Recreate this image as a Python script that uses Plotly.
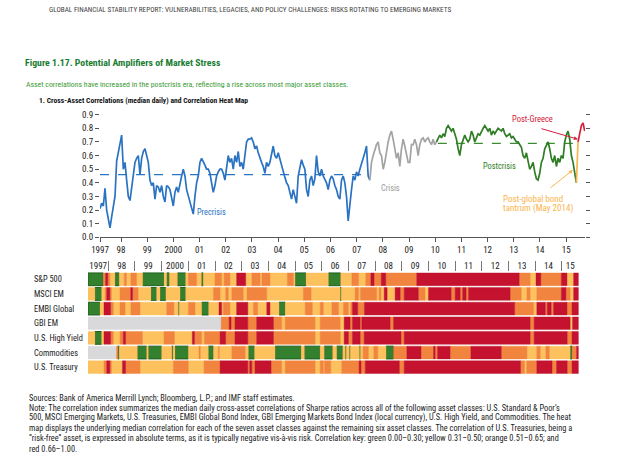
import plotly.graph_objects as go

W, H = 640, 459
NARROW = "Liberation Sans Narrow, Arial Narrow, Roboto Condensed, Roboto, sans-serif"

# ---------------- line chart data (median daily cross-asset correlation) -------------
grid_start = 1997.198
grid_step = 0.06361

precrisis = [0.21, 0.25, 0.23, 0.36, 0.2, 0.12, 0.07, 0.15, 0.22, 0.3,
             0.56, 0.62, 0.7, 0.75, 0.5, 0.55, 0.42, 0.3, 0.27, 0.38,
             0.45, 0.55, 0.58, 0.6, 0.46, 0.58, 0.63, 0.65, 0.6, 0.55,
             0.42, 0.38, 0.4, 0.28, 0.38, 0.37, 0.33, 0.38, 0.3, 0.26,
             0.38, 0.37, 0.35, 0.3, 0.23, 0.33, 0.37, 0.33, 0.4, 0.45,
             0.5, 0.45, 0.35, 0.3, 0.25, 0.22, 0.17, 0.3, 0.4, 0.45,
             0.55, 0.58, 0.56, 0.53, 0.5, 0.5, 0.47, 0.4, 0.33, 0.38,
             0.45, 0.48, 0.5, 0.5, 0.47, 0.42, 0.52, 0.6, 0.55, 0.58,
             0.5, 0.6, 0.55, 0.63, 0.52, 0.55, 0.5, 0.6, 0.7, 0.72,
             0.72, 0.73, 0.7, 0.65, 0.67, 0.62, 0.58, 0.55, 0.52, 0.47,
             0.55, 0.52, 0.55, 0.62, 0.67, 0.6, 0.58, 0.62, 0.57, 0.52,
             0.47, 0.44, 0.4, 0.38, 0.33, 0.28, 0.35, 0.3, 0.25, 0.45,
             0.52, 0.57, 0.53, 0.5, 0.35, 0.3,
             0.42, 0.45, 0.38, 0.43, 0.6, 0.48, 0.45, 0.5, 0.45, 0.42,
             0.4, 0.35, 0.42, 0.45, 0.43, 0.38, 0.35, 0.3, 0.28, 0.42,
             0.45, 0.4, 0.3, 0.12, 0.25, 0.35, 0.45, 0.42, 0.48, 0.45,
             0.5, 0.55, 0.58, 0.62, 0.67, 0.45, 0.42]
crisis = [0.42, 0.55, 0.6, 0.65, 0.68, 0.7, 0.62, 0.6, 0.5, 0.55,
          0.63, 0.7, 0.75, 0.78, 0.72, 0.65, 0.58, 0.62, 0.52, 0.65,
          0.72, 0.67, 0.62, 0.55, 0.55, 0.68, 0.68, 0.72, 0.68, 0.6,
          0.68, 0.72, 0.73, 0.7, 0.72, 0.73, 0.7, 0.68, 0.72, 0.68,
          0.7]
postcrisis = [0.7, 0.72, 0.75, 0.73, 0.76, 0.74, 0.8, 0.82, 0.8, 0.78,
              0.8, 0.76, 0.72, 0.65, 0.6, 0.68, 0.72, 0.75, 0.72, 0.7,
              0.72, 0.78, 0.75, 0.7, 0.73, 0.76, 0.75, 0.78, 0.8, 0.82,
              0.8, 0.78, 0.8, 0.75, 0.78, 0.76, 0.78, 0.8, 0.79, 0.78,
              0.8, 0.76, 0.74, 0.75, 0.76, 0.73, 0.74, 0.72, 0.7, 0.7,
              0.68, 0.66, 0.6, 0.58, 0.62, 0.55, 0.5, 0.52, 0.55, 0.48,
              0.43, 0.42, 0.47, 0.55, 0.58, 0.65, 0.68, 0.7, 0.65, 0.58,
              0.55, 0.6, 0.52, 0.58, 0.55, 0.6, 0.58, 0.7, 0.75, 0.78,
              0.72, 0.6, 0.55, 0.48, 0.4]
tantrum = [0.40, 0.70]
post_greece = [0.70, 0.76, 0.82, 0.84, 0.78]
series_start = {"precrisis": 0, "crisis": 162, "postcrisis": 202, "tantrum": 286, "greece": 287}

precrisis_mean = 0.46
precrisis_span = (1997.2, 2007.55)
postcrisis_mean = 0.69
postcrisis_span = (2010.1, 2015.45)

line_tick_vals = [1997.2] + list(range(1998, 2016))
year_labels = ["1997", "98", "99", "2000", "01", "02", "03", "04", "05", "06", "07",
               "08", "09", "10", "11", "12", "13", "14", "15"]
y_ticks = [0.0, 0.1, 0.2, 0.3, 0.4, 0.5, 0.6, 0.7, 0.8, 0.9]

# ---------------- heat map data: (start year, correlation bucket) ------------------
heat_start, heat_end = 1997.24, 2015.63
rows = ["S&P 500", "MSCI EM", "EMBI Global", "GBI EM", "U.S. High Yield", "Commodities", "U.S. Treasury"]

sp500 = [(1997.24, "G"), (1997.81, "O"), (1997.9, "R"), (1997.98, "O"), (1998.06, "Y"), (1998.25, "G"),
         (1998.41, "Y"), (1998.6, "O"), (1998.68, "Y"), (1998.85, "O"), (1999.06, "Y"), (1999.29, "G"),
         (2000.09, "Y"), (2000.19, "G"), (2000.29, "Y"), (2000.59, "G"), (2000.9, "Y"), (2001.0, "O"),
         (2001.31, "Y"), (2001.49, "G"), (2001.56, "Y"), (2002.0, "O"), (2002.25, "Y"), (2002.34, "O"),
         (2002.56, "Y"), (2002.81, "R"), (2003.15, "Y"), (2003.38, "O"), (2003.69, "Y"), (2003.76, "O"),
         (2004.06, "Y"), (2004.71, "O"), (2004.94, "Y"), (2005.0, "G"), (2005.41, "Y"), (2006.25, "G"),
         (2006.71, "Y"), (2007.13, "O"), (2007.38, "Y"), (2007.65, "O"), (2007.84, "R"), (2007.96, "O"),
         (2008.23, "R"), (2008.4, "O"), (2009.56, "R"), (2013.4, "O"), (2013.81, "Y"), (2014.03, "R"),
         (2014.21, "O"), (2014.98, "R"), (2015.19, "Y"), (2015.44, "R")]
msci_em = [(1997.24, "Y"), (1997.5, "G"), (1997.75, "Y"), (1997.88, "O"), (1997.94, "R"), (1998.06, "O"),
           (1998.12, "Y"), (1998.44, "O"), (1998.84, "R"), (1998.91, "O"), (1999.12, "Y"), (1999.6, "G"),
           (1999.81, "Y"), (1999.94, "G"), (2000.16, "Y"), (2000.69, "G"), (2000.9, "Y"), (2001.94, "O"),
           (2002.19, "Y"), (2002.4, "O"), (2002.5, "Y"), (2002.63, "O"), (2003.06, "Y"), (2003.2, "O"),
           (2003.94, "Y"), (2005.31, "O"), (2005.6, "Y"), (2006.69, "G"), (2006.73, "Y"), (2007.25, "O"),
           (2007.38, "Y"), (2007.45, "O"), (2008.06, "Y"), (2008.15, "O"), (2008.22, "Y"), (2008.34, "R"),
           (2008.45, "Y"), (2008.75, "R"), (2008.94, "O"), (2009.09, "R"), (2009.62, "O"), (2009.87, "Y"),
           (2010.0, "R"), (2010.85, "O"), (2011.0, "R"), (2011.19, "O"), (2011.28, "R"), (2011.41, "O"),
           (2011.5, "R"), (2013.06, "O"), (2013.48, "Y"), (2013.69, "O"), (2013.81, "Y"), (2014.06, "O"),
           (2014.98, "R"), (2015.15, "O"), (2015.31, "Y"), (2015.44, "R")]
embi_global = [(1997.24, "G"), (1997.69, "Y"), (1997.84, "R"), (1998.09, "O"), (1998.19, "Y"), (1998.44, "O"),
               (1998.63, "Y"), (1998.85, "O"), (1999.19, "Y"), (2000.19, "O"), (2000.46, "Y"), (2000.62, "G"),
               (2000.66, "Y"), (2001.0, "O"), (2001.25, "Y"), (2001.5, "G"), (2001.76, "Y"), (2002.15, "R"),
               (2002.25, "Y"), (2002.31, "O"), (2002.56, "Y"), (2002.81, "R"), (2003.23, "Y"), (2003.44, "O"),
               (2003.6, "Y"), (2003.94, "R"), (2004.06, "Y"), (2004.4, "G"), (2004.63, "Y"), (2005.38, "O"),
               (2005.65, "Y"), (2005.94, "O"), (2006.06, "Y"), (2006.38, "O"), (2006.63, "Y"), (2006.81, "O"),
               (2007.0, "Y"), (2007.08, "O"), (2007.15, "R"), (2007.35, "O"), (2007.6, "R"), (2013.23, "O"),
               (2013.94, "Y"), (2014.06, "R"), (2014.38, "O"), (2014.45, "R"), (2014.6, "O"), (2014.69, "R"),
               (2015.19, "O"), (2015.38, "R")]
gbi_em = [(1997.24, "N"), (2002.23, "O"), (2002.53, "R"), (2002.6, "O"), (2002.75, "R"), (2003.23, "O"),
          (2003.56, "R"), (2004.19, "O"), (2004.5, "Y"), (2004.63, "O"), (2005.75, "Y"), (2005.94, "O"),
          (2006.69, "Y"), (2006.84, "R"), (2007.06, "O"), (2007.15, "R"), (2007.44, "O"), (2007.5, "R"),
          (2008.56, "O"), (2008.69, "R"), (2013.81, "O"), (2013.96, "R"), (2015.31, "Y"), (2015.4, "R")]
us_high_yield = [(1997.24, "Y"), (1997.5, "G"), (1997.75, "Y"), (1997.84, "R"), (1998.09, "O"), (1998.19, "Y"),
                 (1998.44, "O"), (1998.56, "R"), (1998.65, "O"), (1999.28, "Y"), (2000.09, "O"), (2000.48, "Y"),
                 (2001.15, "R"), (2001.23, "O"), (2001.5, "Y"), (2001.6, "O"), (2002.19, "R"), (2002.4, "O"),
                 (2002.75, "R"), (2003.23, "O"), (2003.56, "R"), (2004.19, "O"), (2005.75, "Y"), (2005.94, "O"),
                 (2006.7, "Y"), (2006.84, "R"), (2007.0, "O"), (2007.15, "R"), (2007.44, "O"), (2007.59, "R"),
                 (2008.97, "O"), (2009.09, "R"), (2013.81, "O"), (2013.96, "R"), (2015.2, "O"), (2015.38, "R")]
commodities = [(1997.24, "N"), (1998.31, "O"), (1998.36, "G"), (1998.41, "Y"), (1999.09, "G"), (1999.44, "Y"),
               (1999.5, "G"), (2000.0, "Y"), (2000.38, "G"), (2000.43, "Y"), (2000.5, "G"), (2001.0, "Y"),
               (2001.4, "O"), (2001.45, "Y"), (2001.75, "G"), (2001.94, "Y"), (2002.13, "O"), (2002.16, "Y"),
               (2002.63, "O"), (2003.13, "Y"), (2003.25, "G"), (2003.48, "Y"), (2004.25, "G"), (2005.23, "Y"),
               (2005.35, "G"), (2005.94, "Y"), (2006.09, "G"), (2006.41, "Y"), (2006.56, "G"), (2006.79, "Y"),
               (2006.88, "G"), (2006.92, "Y"), (2007.03, "G"), (2007.07, "Y"), (2007.41, "G"), (2007.45, "Y"),
               (2007.55, "O"), (2007.75, "Y"), (2007.95, "O"), (2008.1, "Y"), (2008.41, "G"), (2008.69, "O"),
               (2009.19, "R"), (2009.72, "O"), (2010.19, "R"), (2010.25, "O"), (2010.34, "R"), (2010.81, "O"),
               (2011.59, "R"), (2012.73, "O"), (2013.69, "Y"), (2014.06, "O"), (2014.19, "Y"), (2014.4, "O"),
               (2014.53, "Y"), (2015.31, "G"), (2015.38, "O"), (2015.55, "R")]
us_treasury = [(1997.24, "Y"), (1997.84, "O"), (1997.94, "R"), (1998.06, "O"), (1998.12, "Y"), (1998.53, "R"),
               (1998.65, "O"), (1999.19, "Y"), (2000.44, "O"), (2001.0, "Y"), (2001.59, "O"), (2002.19, "R"),
               (2003.23, "O"), (2003.3, "R"), (2003.38, "O"), (2003.5, "R"), (2004.1, "O"), (2004.5, "Y"),
               (2004.63, "O"), (2005.75, "Y"), (2005.94, "O"), (2006.06, "Y"), (2006.1, "O"), (2006.34, "Y"),
               (2006.75, "O"), (2007.4, "R"), (2007.47, "O"), (2007.63, "R"), (2008.91, "O"), (2009.09, "R"),
               (2013.45, "O"), (2013.6, "Y"), (2013.68, "O"), (2014.06, "R"), (2014.63, "O"), (2014.8, "R"),
               (2015.2, "O"), (2015.38, "R")]
heat_rows = [sp500, msci_em, embi_global, gbi_em, us_high_yield, commodities, us_treasury]

bucket_colors = {"N": "#d9d9db", "G": "#33802f", "Y": "#fdc15d", "O": "#f1853f", "R": "#c4122f"}
bucket_lines = {"N": "#d9d9db", "G": "#1f5f1c", "Y": "#fdc15d", "O": "#ee7d36", "R": "#b50f29"}

# ---------------- colours ----------------
C_BLUE, C_GRAY, C_GREEN, C_ORANGE, C_RED = "#2a73c2", "#a3a3a3", "#2f7d24", "#fbb44c", "#d3203c"

fig = go.Figure()

def xs(key, vals):
    s = series_start[key]
    return [grid_start + (s + i) * grid_step for i in range(len(vals))]

fig.add_trace(go.Scatter(x=list(precrisis_span), y=[precrisis_mean] * 2, mode="lines",
                         line=dict(color=C_BLUE, width=1.3, dash="dash")))
fig.add_trace(go.Scatter(x=list(postcrisis_span), y=[postcrisis_mean] * 2, mode="lines",
                         line=dict(color="#3d8a35", width=1.3, dash="dash")))
for key, vals, col in [("precrisis", precrisis, C_BLUE), ("crisis", crisis, C_GRAY),
                       ("postcrisis", postcrisis, C_GREEN), ("tantrum", tantrum, C_ORANGE),
                       ("greece", post_greece, C_RED)]:
    fig.add_trace(go.Scatter(x=xs(key, vals), y=vals, mode="lines",
                             line=dict(color=col, width=1.7)))

# heat map as horizontal segment bars
for code in ["N", "G", "Y", "O", "R"]:
    ys, bases, lens = [], [], []
    for name, segs in zip(rows, heat_rows):
        for k, (st, c) in enumerate(segs):
            en = segs[k + 1][0] if k + 1 < len(segs) else heat_end
            if c == code:
                ys.append(name); bases.append(st); lens.append(en - st)
    fig.add_trace(go.Bar(orientation="h", y=ys, x=lens, base=bases, xaxis="x2", yaxis="y2",
                         marker=dict(color=bucket_colors[code],
                                     line=dict(color=bucket_lines[code], width=1 if code == "G" else 0.4))))

def px_x(p): return p / W
def px_y(p): return 1 - p / H

heat_label_pos = []
for i, lab in enumerate(year_labels):
    y0 = max(1997 + i, heat_start)
    y1 = min(1998 + i, heat_end)
    heat_label_pos.append((y0 + y1) / 2)

HEAT_L, HEAT_R = 88, 578.7

fig.update_layout(
    width=W, height=H, margin=dict(l=0, r=0, t=0, b=0, autoexpand=False),
    paper_bgcolor="white", plot_bgcolor="white", showlegend=False,
    barmode="overlay", bargap=0.13,
    font=dict(family=NARROW, color="#222"),
    xaxis=dict(domain=[px_x(100), px_x(585)], range=[grid_start, 2015.72], anchor="y",
               tickvals=line_tick_vals, ticktext=year_labels, ticks="outside", ticklen=4,
               tickcolor="#555", showline=True, linecolor="#555", linewidth=1, automargin=False,
               showgrid=False, zeroline=False, tickfont=dict(size=9, family=NARROW, color="#222")),
    yaxis=dict(domain=[px_y(237.3), px_y(114.7)], range=[0, 0.9], anchor="x",
               tickvals=y_ticks, ticktext=["%.1f" % v for v in y_ticks], ticks="outside", ticklen=4,
               tickcolor="#555", showline=False, mirror="ticks", showgrid=False, zeroline=False,
               automargin=False, tickfont=dict(size=9, family=NARROW, color="#222")),
    xaxis2=dict(domain=[px_x(HEAT_L), px_x(HEAT_R)], range=[heat_start, heat_end], anchor="y2",
                side="top", tickvals=heat_label_pos, ticktext=year_labels, ticks="",
                minor=dict(tickmode="array", tickvals=list(range(1998, 2016)), ticks="outside",
                           ticklen=10, tickcolor="#777", tickwidth=1),
                showline=False, showgrid=False, zeroline=False, automargin=False,
                tickfont=dict(size=9, family=NARROW, color="#222")),
    yaxis2=dict(domain=[px_y(374.5), px_y(272)], anchor="x2", type="category",
                categoryorder="array", categoryarray=rows, autorange="reversed", automargin=False,
                showticklabels=False, showgrid=False, zeroline=False, showline=False),
)

ann = []
def note(text, x, y, size, color="#222", xanchor="left", bold=False, family=NARROW):
    if bold:
        text = "<b>" + text + "</b>"
    ann.append(dict(text=text, x=px_x(x), y=px_y(y), xref="paper", yref="paper",
                    xanchor=xanchor, yanchor="middle", showarrow=False,
                    font=dict(size=size, color=color, family=family)))

note("GLOBAL FINANCIAL STABILITY REPORT: VULNERABILITIES, LEGACIES, AND POLICY CHALLENGES: RISKS ROTATING TO EMERGING MARKETS",
     47, 10, 7.2, "#444")
note("Figure 1.17. Potential Amplifiers of Market Stress", 23, 62, 9.8, "#1b7d33", bold=True)
note("Asset correlations have increased in the postcrisis era, reflecting a rise across most major asset classes.",
     24, 85, 7.8, "#3a9a35")
note("1. Cross-Asset Correlations (median daily) and Correlation Heat Map", 37, 100.5, 7.6, "#111", bold=True)

note("Precrisis", 211.5, 212.3, 8.3, C_BLUE, xanchor="center")
note("Crisis", 390.5, 188.3, 8.3, "#9a9a9a", xanchor="center")
note("Postcrisis", 499, 165.7, 8.3, C_GREEN, xanchor="center")
note("Post-Greece", 532.5, 119.3, 8.5, C_RED, xanchor="center")
note("Post-global bond", 501, 198.5, 9, C_ORANGE)
note("tantrum (May 2014)", 501, 208.8, 9, C_ORANGE)

# arrows
ann.append(dict(x=2015.45, y=0.72, xref="x", yref="y", ax=-38, ay=-11, text="", showarrow=True,
                arrowhead=2, arrowsize=0.8, arrowwidth=1, arrowcolor=C_RED))
ann.append(dict(x=2015.26, y=0.494, xref="x", yref="y", ax=-24, ay=19, text="", showarrow=True,
                arrowhead=2, arrowsize=0.8, arrowwidth=1, arrowcolor=C_ORANGE))

for name in rows:
    ann.append(dict(text=name, x=px_x(32), y=name, xref="paper", yref="y2", xanchor="left",
                    yanchor="middle", showarrow=False, font=dict(size=8.4, family=NARROW, color="#222")))

footer = [
    "Sources: Bank of America Merrill Lynch; Bloomberg, L.P.; and IMF staff estimates.",
    "Note: The correlation index summarizes the median daily cross-asset correlations of Sharpe ratios across all of the following asset classes: U.S. Standard &amp; Poor’s",
    "500, MSCI Emerging Markets, U.S. Treasuries, EMBI Global Bond Index, GBI Emerging Markets Bond Index (local currency), U.S. High Yield, and Commodities. The heat",
    "map displays the underlying median correlation for each of the seven asset classes against the remaining six asset classes. The correlation of U.S. Treasuries, being a",
    "“risk-free” asset, is expressed in absolute terms, as it is typically negative vis-à-vis risk. Correlation key: green 0.00–0.30; yellow 0.31–0.50; orange 0.51–0.65; and",
    "red 0.66–1.00.",
]
for i, line in enumerate(footer):
    note(line, 27, 397.5 + i * 10.2, 8.3, "#222")

fig.update_layout(annotations=ann)
fig.write_html("out.html", config={"displayModeBar": False},
               post_script="document.body.style.margin='0px';document.body.style.overflow='hidden';")
